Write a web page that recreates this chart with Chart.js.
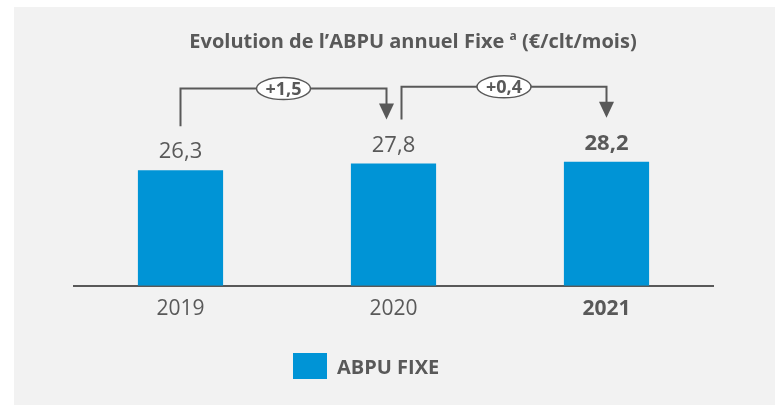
<!DOCTYPE html>
<html>
<head>
<meta charset="utf-8">
<script src="https://cdn.jsdelivr.net/npm/chart.js@4.4.1/dist/chart.umd.min.js"></script>
<style>
  html, body { margin: 0; padding: 0; background: #fff; }
  #wrap { position: relative; width: 775px; height: 405px; }
</style>
</head>
<body>
<div id="wrap"><canvas id="cvABPU" width="775" height="405"></canvas></div>
<script>
const years = ["2019", "2020", "2021"];
const abpuFixe = [26.3, 27.8, 28.2];
const deltaLabels = ["+1,5", "+0,4"];
const seriesName = "ABPU FIXE";

const GREY = "#595959";
const BLUE = "#0094D6";
const FONT = "'Open Sans', sans-serif";

const fmt = (v) => v.toFixed(1).replace(".", ",");

// grey panel behind the chart
const bgPlugin = {
    id: "bgPanel",
    beforeDraw: (chart) => {
        const ctx = chart.ctx;
        ctx.save();
        ctx.fillStyle = "#F2F2F2";
        ctx.fillRect(14, 7, chart.width - 14, chart.height - 7);
        ctx.restore();
    }
};

// title, value labels, brackets with deltas, legend
const decorPlugin = {
    id: "decor",
    afterDatasetsDraw: (chart) => {
        const ctx = chart.ctx;
        const bars = chart.getDatasetMeta(0).data;
        const last = bars.length - 1;
        ctx.save();
        ctx.fillStyle = GREY;
        ctx.textAlign = "center";
        ctx.textBaseline = "alphabetic";
        bars.forEach((bar, i) => {
            ctx.font = (i === last ? "bold " : "") + "22px " + FONT;
            ctx.fillText(fmt(abpuFixe[i]), bar.x, bar.y - 12);
        });

        // brackets
        ctx.strokeStyle = GREY;
        ctx.lineWidth = 2;
        for (let i = 0; i < bars.length - 1; i++) {
            const a = bars[i], b = bars[i + 1];
            const x1 = a.x + (i > 0 ? 8 : 0);
            const x2 = b.x - (i + 1 < last ? 7 : 0);
            const y1 = a.y - 44;
            const tip = b.y - 44;
            const top = Math.min(a.y, b.y) - 75;
            ctx.beginPath();
            ctx.moveTo(x1, y1);
            ctx.lineTo(x1, top);
            ctx.lineTo(x2, top);
            ctx.lineTo(x2, tip - 15);
            ctx.stroke();
            ctx.beginPath();
            ctx.moveTo(x2 - 7.5, tip - 16);
            ctx.lineTo(x2 + 7.5, tip - 16);
            ctx.lineTo(x2, tip);
            ctx.closePath();
            ctx.fill();

            const cx = (x1 + x2) / 2;
            ctx.beginPath();
            ctx.ellipse(cx, top, 27, 11, 0, 0, Math.PI * 2);
            ctx.fillStyle = "#fff";
            ctx.fill();
            ctx.lineWidth = 1.5;
            ctx.stroke();
            ctx.lineWidth = 2;
            ctx.fillStyle = GREY;
            ctx.font = "bold 18px " + FONT;
            ctx.textBaseline = "middle";
            ctx.fillText(deltaLabels[i], cx, top + 1);
            ctx.textBaseline = "alphabetic";
        }
        ctx.restore();
    },
    afterDraw: (chart) => {
        const ctx = chart.ctx;
        ctx.save();
        ctx.fillStyle = GREY;
        ctx.textBaseline = "alphabetic";
        // title with superscript a
        const parts = [
            { t: "Evolution de l\u2019ABPU annuel Fixe ", f: "bold 20px " + FONT, dy: 0 },
            { t: "a", f: "bold 12px " + FONT, dy: -8 },
            { t: " (\u20AC/clt/mois)", f: "bold 20px " + FONT, dy: 0 }
        ];
        let total = 0;
        parts.forEach(p => { ctx.font = p.f; p.w = ctx.measureText(p.t).width; total += p.w; });
        let x = 413 - total / 2;
        ctx.textAlign = "left";
        parts.forEach(p => { ctx.font = p.f; ctx.fillText(p.t, x, 48 + p.dy); x += p.w; });

        // legend
        const ds = chart.data.datasets[0];
        ctx.fillStyle = ds.backgroundColor;
        ctx.fillRect(293, 353, 34, 26);
        ctx.fillStyle = GREY;
        ctx.font = "bold 20px " + FONT;
        ctx.fillText(ds.label, 337, 374);
        ctx.restore();
    }
};

Chart.defaults.font.family = FONT;

const ctx = document.getElementById("cvABPU").getContext("2d");
const myChart = new Chart(ctx, {
    type: "bar",
    data: {
        labels: years,
        datasets: [{
            label: seriesName,
            data: abpuFixe,
            backgroundColor: BLUE,
            categoryPercentage: 1,
            barPercentage: 0.4
        }]
    },
    options: {
        responsive: false,
        animation: false,
        layout: { padding: { left: 74, right: 62, top: 110, bottom: 80 } },
        scales: {
            x: {
                grid: { display: false },
                border: { display: true, color: GREY, width: 2 },
                ticks: {
                    color: GREY,
                    padding: 3,
                    font: (c) => ({ family: FONT, size: 21, weight: c.index === 2 ? "bold" : "normal" })
                }
            },
            y: { display: false, min: 0, max: 40 }
        },
        plugins: {
            legend: { display: false },
            tooltip: { enabled: false }
        }
    },
    plugins: [bgPlugin, decorPlugin]
});
</script>
</body>
</html>
